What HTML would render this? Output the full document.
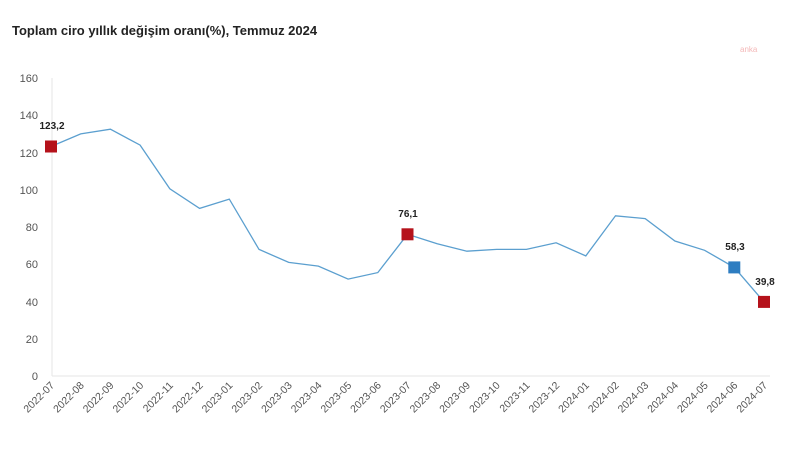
<!DOCTYPE html>
<html><head><meta charset="utf-8"><style>
html,body{margin:0;padding:0;background:#fff;}
svg{display:block;font-family:"Liberation Sans",sans-serif;}
</style></head><body>
<svg width="801" height="450" viewBox="0 0 801 450">
<text x="12" y="35" font-size="13" font-weight="bold" fill="#222">Toplam ciro yıllık değişim oranı(%), Temmuz 2024</text>
<text x="740" y="52" font-size="8" fill="#f4b8b8">anka</text>
<line x1="52" y1="78" x2="52" y2="376" stroke="#e6e6e6"/>
<line x1="52" y1="376" x2="770" y2="376" stroke="#e6e6e6"/>
<g font-size="11" fill="#555" text-anchor="end">
<text x="38" y="380">0</text><text x="38" y="343">20</text><text x="38" y="306">40</text><text x="38" y="268">60</text><text x="38" y="231">80</text><text x="38" y="194">100</text><text x="38" y="157">120</text><text x="38" y="119">140</text><text x="38" y="82">160</text>
</g>
<polyline fill="none" stroke="#5b9fcf" stroke-width="1.3" points="51,146.5 80.7,133.9 110.4,129.2 140.1,145.1 169.8,188.8 199.6,208.4 229.3,199.1 259,249.4 288.7,262.4 318.4,266.1 348.1,279.1 377.8,272.6 407.5,234.3 437.2,243.8 466.9,251.2 496.7,249.4 526.4,249.4 556.1,242.8 585.8,255.9 615.5,215.8 645.2,218.6 674.9,241 704.6,250.3 734.3,267.4 764,301.9"/>
<rect x="45" y="140.5" width="12" height="12" fill="#b5121b"/>
<rect x="401.5" y="228.3" width="12" height="12" fill="#b5121b"/>
<rect x="728.3" y="261.4" width="12" height="12" fill="#2e7dc1"/>
<rect x="758" y="295.9" width="12" height="12" fill="#b5121b"/>
<g font-size="10" font-weight="bold" fill="#222" text-anchor="middle">
<text x="52" y="129">123,2</text><text x="408" y="217">76,1</text><text x="735" y="250">58,3</text><text x="765" y="285">39,8</text>
</g>
<g font-size="10.5" fill="#555" text-anchor="end">
<text transform="translate(55,386) rotate(-45)">2022-07</text>
<text transform="translate(84.7,386) rotate(-45)">2022-08</text>
<text transform="translate(114.4,386) rotate(-45)">2022-09</text>
<text transform="translate(144.1,386) rotate(-45)">2022-10</text>
<text transform="translate(173.8,386) rotate(-45)">2022-11</text>
<text transform="translate(203.6,386) rotate(-45)">2022-12</text>
<text transform="translate(233.3,386) rotate(-45)">2023-01</text>
<text transform="translate(263,386) rotate(-45)">2023-02</text>
<text transform="translate(292.7,386) rotate(-45)">2023-03</text>
<text transform="translate(322.4,386) rotate(-45)">2023-04</text>
<text transform="translate(352.1,386) rotate(-45)">2023-05</text>
<text transform="translate(381.8,386) rotate(-45)">2023-06</text>
<text transform="translate(411.5,386) rotate(-45)">2023-07</text>
<text transform="translate(441.2,386) rotate(-45)">2023-08</text>
<text transform="translate(470.9,386) rotate(-45)">2023-09</text>
<text transform="translate(500.7,386) rotate(-45)">2023-10</text>
<text transform="translate(530.4,386) rotate(-45)">2023-11</text>
<text transform="translate(560.1,386) rotate(-45)">2023-12</text>
<text transform="translate(589.8,386) rotate(-45)">2024-01</text>
<text transform="translate(619.5,386) rotate(-45)">2024-02</text>
<text transform="translate(649.2,386) rotate(-45)">2024-03</text>
<text transform="translate(678.9,386) rotate(-45)">2024-04</text>
<text transform="translate(708.6,386) rotate(-45)">2024-05</text>
<text transform="translate(738.3,386) rotate(-45)">2024-06</text>
<text transform="translate(768,386) rotate(-45)">2024-07</text>
</g>
</svg>
</body></html>
